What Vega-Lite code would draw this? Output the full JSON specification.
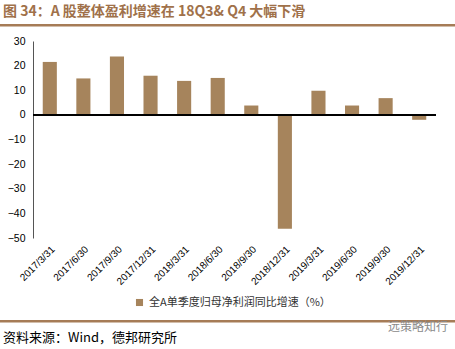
{
  "$schema": "https://vega.github.io/schema/vega-lite/v6.json",
  "background": "white",
  "width": 403,
  "height": 197,
  "autosize": "none",
  "padding": {"left": 33, "top": 41, "right": 19, "bottom": 111},
  "config": {"view": {"stroke": null}, "font": "Liberation Sans", "axis": {"labelOverlap": false}},
  "layer": [
    {
      "data": {"values": [
        {"date": "2017/3/31", "value": 21.5, "series": "全A单季度归母净利润同比增速（%）"},
        {"date": "2017/6/30", "value": 14.8, "series": "全A单季度归母净利润同比增速（%）"},
        {"date": "2017/9/30", "value": 23.7, "series": "全A单季度归母净利润同比增速（%）"},
        {"date": "2017/12/31", "value": 15.9, "series": "全A单季度归母净利润同比增速（%）"},
        {"date": "2018/3/31", "value": 13.8, "series": "全A单季度归母净利润同比增速（%）"},
        {"date": "2018/6/30", "value": 15.0, "series": "全A单季度归母净利润同比增速（%）"},
        {"date": "2018/9/30", "value": 3.8, "series": "全A单季度归母净利润同比增速（%）"},
        {"date": "2018/12/31", "value": -46.2, "series": "全A单季度归母净利润同比增速（%）"},
        {"date": "2019/3/31", "value": 9.8, "series": "全A单季度归母净利润同比增速（%）"},
        {"date": "2019/6/30", "value": 3.8, "series": "全A单季度归母净利润同比增速（%）"},
        {"date": "2019/9/30", "value": 6.8, "series": "全A单季度归母净利润同比增速（%）"},
        {"date": "2019/12/31", "value": -2.0, "series": "全A单季度归母净利润同比增速（%）"}
      ]},
      "layer": [
        {
          "mark": {"type": "bar"},
          "encoding": {
            "x": {"field": "date", "type": "ordinal", "sort": null,
              "scale": {"paddingInner": 0.58, "paddingOuter": 0.29},
              "axis": {"title": null, "labelAngle": -45, "ticks": false, "domain": false, "labelFontSize": 10, "labelColor": "#000", "labelPadding": 6}},
            "y": {"field": "value", "type": "quantitative",
              "scale": {"domain": [-50, 30], "nice": false},
              "axis": {"title": null, "tickCount": 8, "labelOverlap": false, "labelSeparation": 0, "labelBound": false, "grid": false, "ticks": false, "labelPadding": 8, "labelFontSize": 10.5, "labelColor": "#000", "domainColor": "#555"}},
            "color": {"field": "series", "type": "nominal",
              "scale": {"range": ["#A6845C"]},
              "legend": {"title": null, "orient": "none", "legendX": 101, "legendY": 256, "padding": 0, "direction": "horizontal", "symbolType": "square", "symbolSize": 50, "labelFont": "Noto Sans CJK SC", "labelFontSize": 11, "labelColor": "#333", "labelLimit": 400}}
          }
        },
        {
          "mark": {"type": "rule", "color": "#000", "strokeWidth": 1.2},
          "encoding": {"y": {"datum": 0, "type": "quantitative"}}
        }
      ]
    },
    {
      "data": {"values": [
        {"kind": "title", "g": 0, "x": 3, "y": 12, "t": "图 34：A 股整体盈利增速在 18Q3& Q4 大幅下滑"},
        {"kind": "seg", "g": 1, "x": 0, "y": 25.2},
        {"kind": "seg", "g": 1, "x": 455, "y": 25.2},
        {"kind": "seg", "g": 2, "x": 0, "y": 321.2},
        {"kind": "seg", "g": 2, "x": 455, "y": 321.2},
        {"kind": "source", "g": 0, "x": 3, "y": 338, "t": "资料来源：Wind，德邦研究所"},
        {"kind": "mark", "g": 0, "x": 388, "y": 327, "t": "远策略知行"}
      ]},
      "layer": [
        {
          "transform": [{"filter": "datum.kind == 'title'"}],
          "mark": {"type": "text", "align": "left", "baseline": "middle", "font": "Noto Sans CJK SC", "fontWeight": "bold", "fontSize": 14, "color": "#A0714A"},
          "encoding": {
            "x": {"field": "x", "type": "quantitative", "scale": {"domain": [33, 436], "nice": false, "zero": false}, "axis": null},
            "y": {"field": "y", "type": "quantitative", "scale": {"domain": [41, 238], "reverse": true, "nice": false, "zero": false}, "axis": null},
            "text": {"field": "t"}
          }
        },
        {
          "transform": [{"filter": "datum.kind == 'seg'"}],
          "mark": {"type": "line", "color": "#A67C57", "strokeWidth": 2.5, "clip": false},
          "encoding": {
            "x": {"field": "x", "type": "quantitative"},
            "y": {"field": "y", "type": "quantitative"},
            "detail": {"field": "g", "type": "nominal"}
          }
        },
        {
          "transform": [{"filter": "datum.kind == 'source'"}],
          "mark": {"type": "text", "align": "left", "baseline": "middle", "font": "Noto Sans CJK SC", "fontSize": 13, "color": "#000"},
          "encoding": {
            "x": {"field": "x", "type": "quantitative"},
            "y": {"field": "y", "type": "quantitative"},
            "text": {"field": "t"}
          }
        },
        {
          "transform": [{"filter": "datum.kind == 'mark'"}],
          "mark": {"type": "text", "align": "left", "baseline": "middle", "font": "Noto Sans CJK SC", "fontSize": 12, "color": "#8a8a8a"},
          "encoding": {
            "x": {"field": "x", "type": "quantitative"},
            "y": {"field": "y", "type": "quantitative"},
            "text": {"field": "t"}
          }
        }
      ]
    }
  ],
  "resolve": {"scale": {"x": "independent", "y": "independent"}}
}
